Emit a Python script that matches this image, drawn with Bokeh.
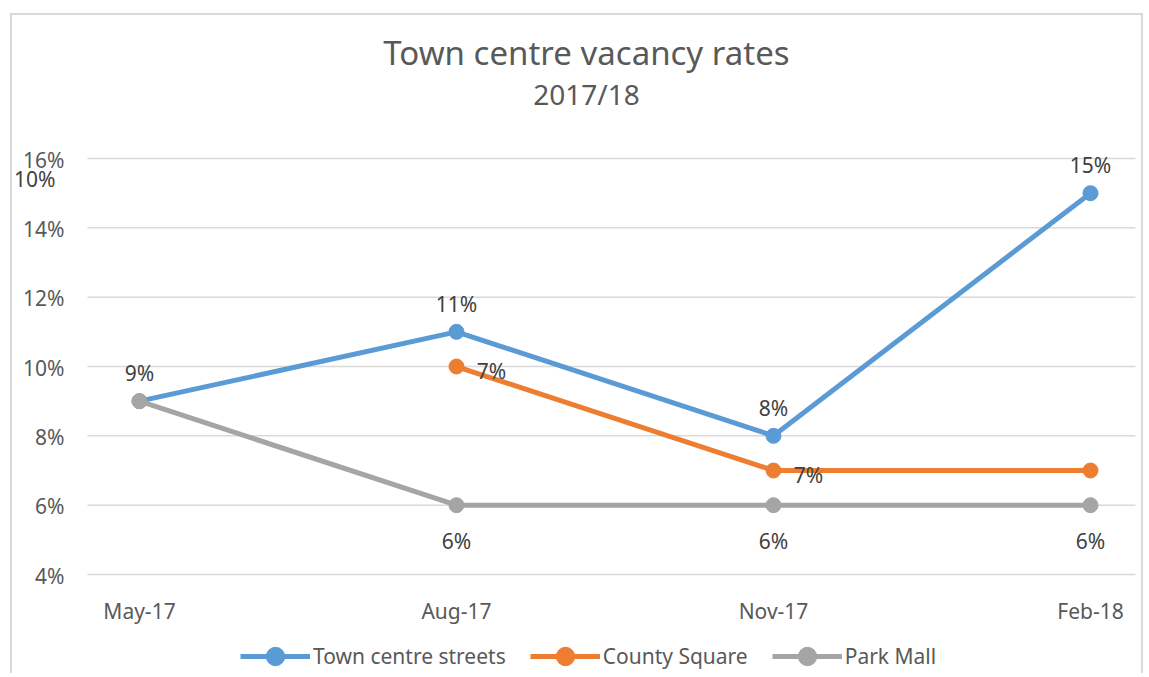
import math
from bokeh.plotting import figure
from bokeh.models import (Range1d, Legend, LegendItem, LabelSet, Label,
                          ColumnDataSource)
from bokeh.core.properties import value
from bokeh.embed import file_html
from bokeh.resources import INLINE

# ---------------- data ----------------
months = ["May-17", "Aug-17", "Nov-17", "Feb-18"]
town_centre = [9, 11, 8, 15]
county_square = [math.nan, 10, 7, 7]
park_mall = [9, 6, 6, 6]
town_labels = ["9%", "11%", "8%", "15%"]
county_labels = ["7%", "7%"]          # labels drawn beside Aug-17 and Nov-17 points
county_stray_label = "10%"            # label that sits by the axis top
county_stray_at = 15.42
park_labels = ["6%", "6%", "6%"]      # Aug-17 .. Feb-18
y_ticks = [4, 6, 8, 10, 12, 14, 16]
y_tick_labels = ["4%", "6%", "8%", "10%", "12%", "14%", "16%"]
title_text = "Town centre vacancy rates"
subtitle_text = "2017/18"

BLUE = "#5B9BD5"
ORANGE = "#ED7D31"
GREY = "#A5A5A5"
TXT = "#595959"
LBL = "#404040"
GRID = "#d9d9d9"
FONT = "Noto Sans"

xs = list(range(len(months)))
y_min = y_ticks[0]
# plot-area extent in category units (plot area runs a bit beyond first/last category)
area_x0, area_x1 = -0.164, 3.142

# the drawing area spans the whole chart box
p = figure(width=1133, height=660, output_backend="svg", toolbar_location=None,
           x_axis_location=None, y_axis_location=None,
           x_range=Range1d(-0.4006, 3.1735), y_range=Range1d(1.087, 20.125),
           min_border_left=0, min_border_right=0, min_border_top=0,
           min_border_bottom=0, outline_line_color=None,
           background_fill_color="white", border_fill_color="white",
           styles={"border-left": "2px solid " + GRID,
                   "border-top": "2px solid " + GRID,
                   "border-right": "2px solid " + GRID,
                   "margin-left": "10px", "margin-top": "13px"})
p.xgrid.visible = False
p.ygrid.visible = False

# horizontal gridlines of the value axis
p.segment(x0=[area_x0] * len(y_ticks), x1=[area_x1] * len(y_ticks),
          y0=y_ticks, y1=y_ticks, line_color=GRID, line_width=1.5)

def text_set(x, y, t, dx=0, dy=0, align="center", color=TXT, size="21px"):
    src = ColumnDataSource(dict(x=x, y=y, t=t))
    p.add_layout(LabelSet(x="x", y="y", text="t", source=src, x_offset=dx,
                          y_offset=dy, text_align=align,
                          text_baseline="middle", text_font=value(FONT),
                          text_font_size=value(size), text_color=color))

# value-axis labels
text_set([area_x0] * len(y_ticks), y_ticks, y_tick_labels, dx=-23, dy=-1,
         align="right")
# category labels under the 4% line
text_set(xs, [y_min] * len(xs), months, dy=-36)

# series
def series(vals, color):
    src = ColumnDataSource(dict(x=xs, y=vals))
    ln = p.line("x", "y", source=src, line_color=color, line_width=5)
    sc = p.scatter("x", "y", source=src, size=15, fill_color=color,
                   line_color=color)
    return ln, sc

r_town = series(town_centre, BLUE)
r_county = series(county_square, ORANGE)
r_park = series(park_mall, GREY)

# data labels
text_set(xs, town_centre, town_labels, dy=28, color=LBL)
text_set(xs[1:3], county_square[1:3], county_labels, dx=35, dy=-4, color=LBL)
text_set(xs[1:], park_mall[1:], park_labels, dy=-36, color=LBL)
p.add_layout(Label(x=area_x0, y=county_stray_at, x_offset=-32,
                   text=county_stray_label, text_align="right",
                   text_baseline="middle", text_font=FONT,
                   text_font_size="21px", text_color=LBL))

# titles
p.add_layout(Label(x=1.41, y=19.06, text=title_text, text_align="center",
                   text_baseline="middle", text_font=FONT,
                   text_font_size="33px", text_color=TXT))
p.add_layout(Label(x=1.41, y=17.86, text=subtitle_text, text_align="center",
                   text_baseline="middle", text_font=FONT,
                   text_font_size="28px", text_color=TXT))

# legend
legend = Legend(items=[LegendItem(label="Town centre streets", renderers=list(r_town)),
                       LegendItem(label="County Square", renderers=list(r_county)),
                       LegendItem(label="Park Mall", renderers=list(r_park))],
                orientation="horizontal", location=(228, -4),
                glyph_width=70, glyph_height=46, label_standoff=3, spacing=24,
                padding=0, margin=0, border_line_color=None,
                background_fill_alpha=0, label_text_font=FONT,
                label_text_font_size="21px", label_text_color=TXT,
                label_height=20)
p.add_layout(legend)

open("out.html", "w").write(file_html(p, INLINE))
